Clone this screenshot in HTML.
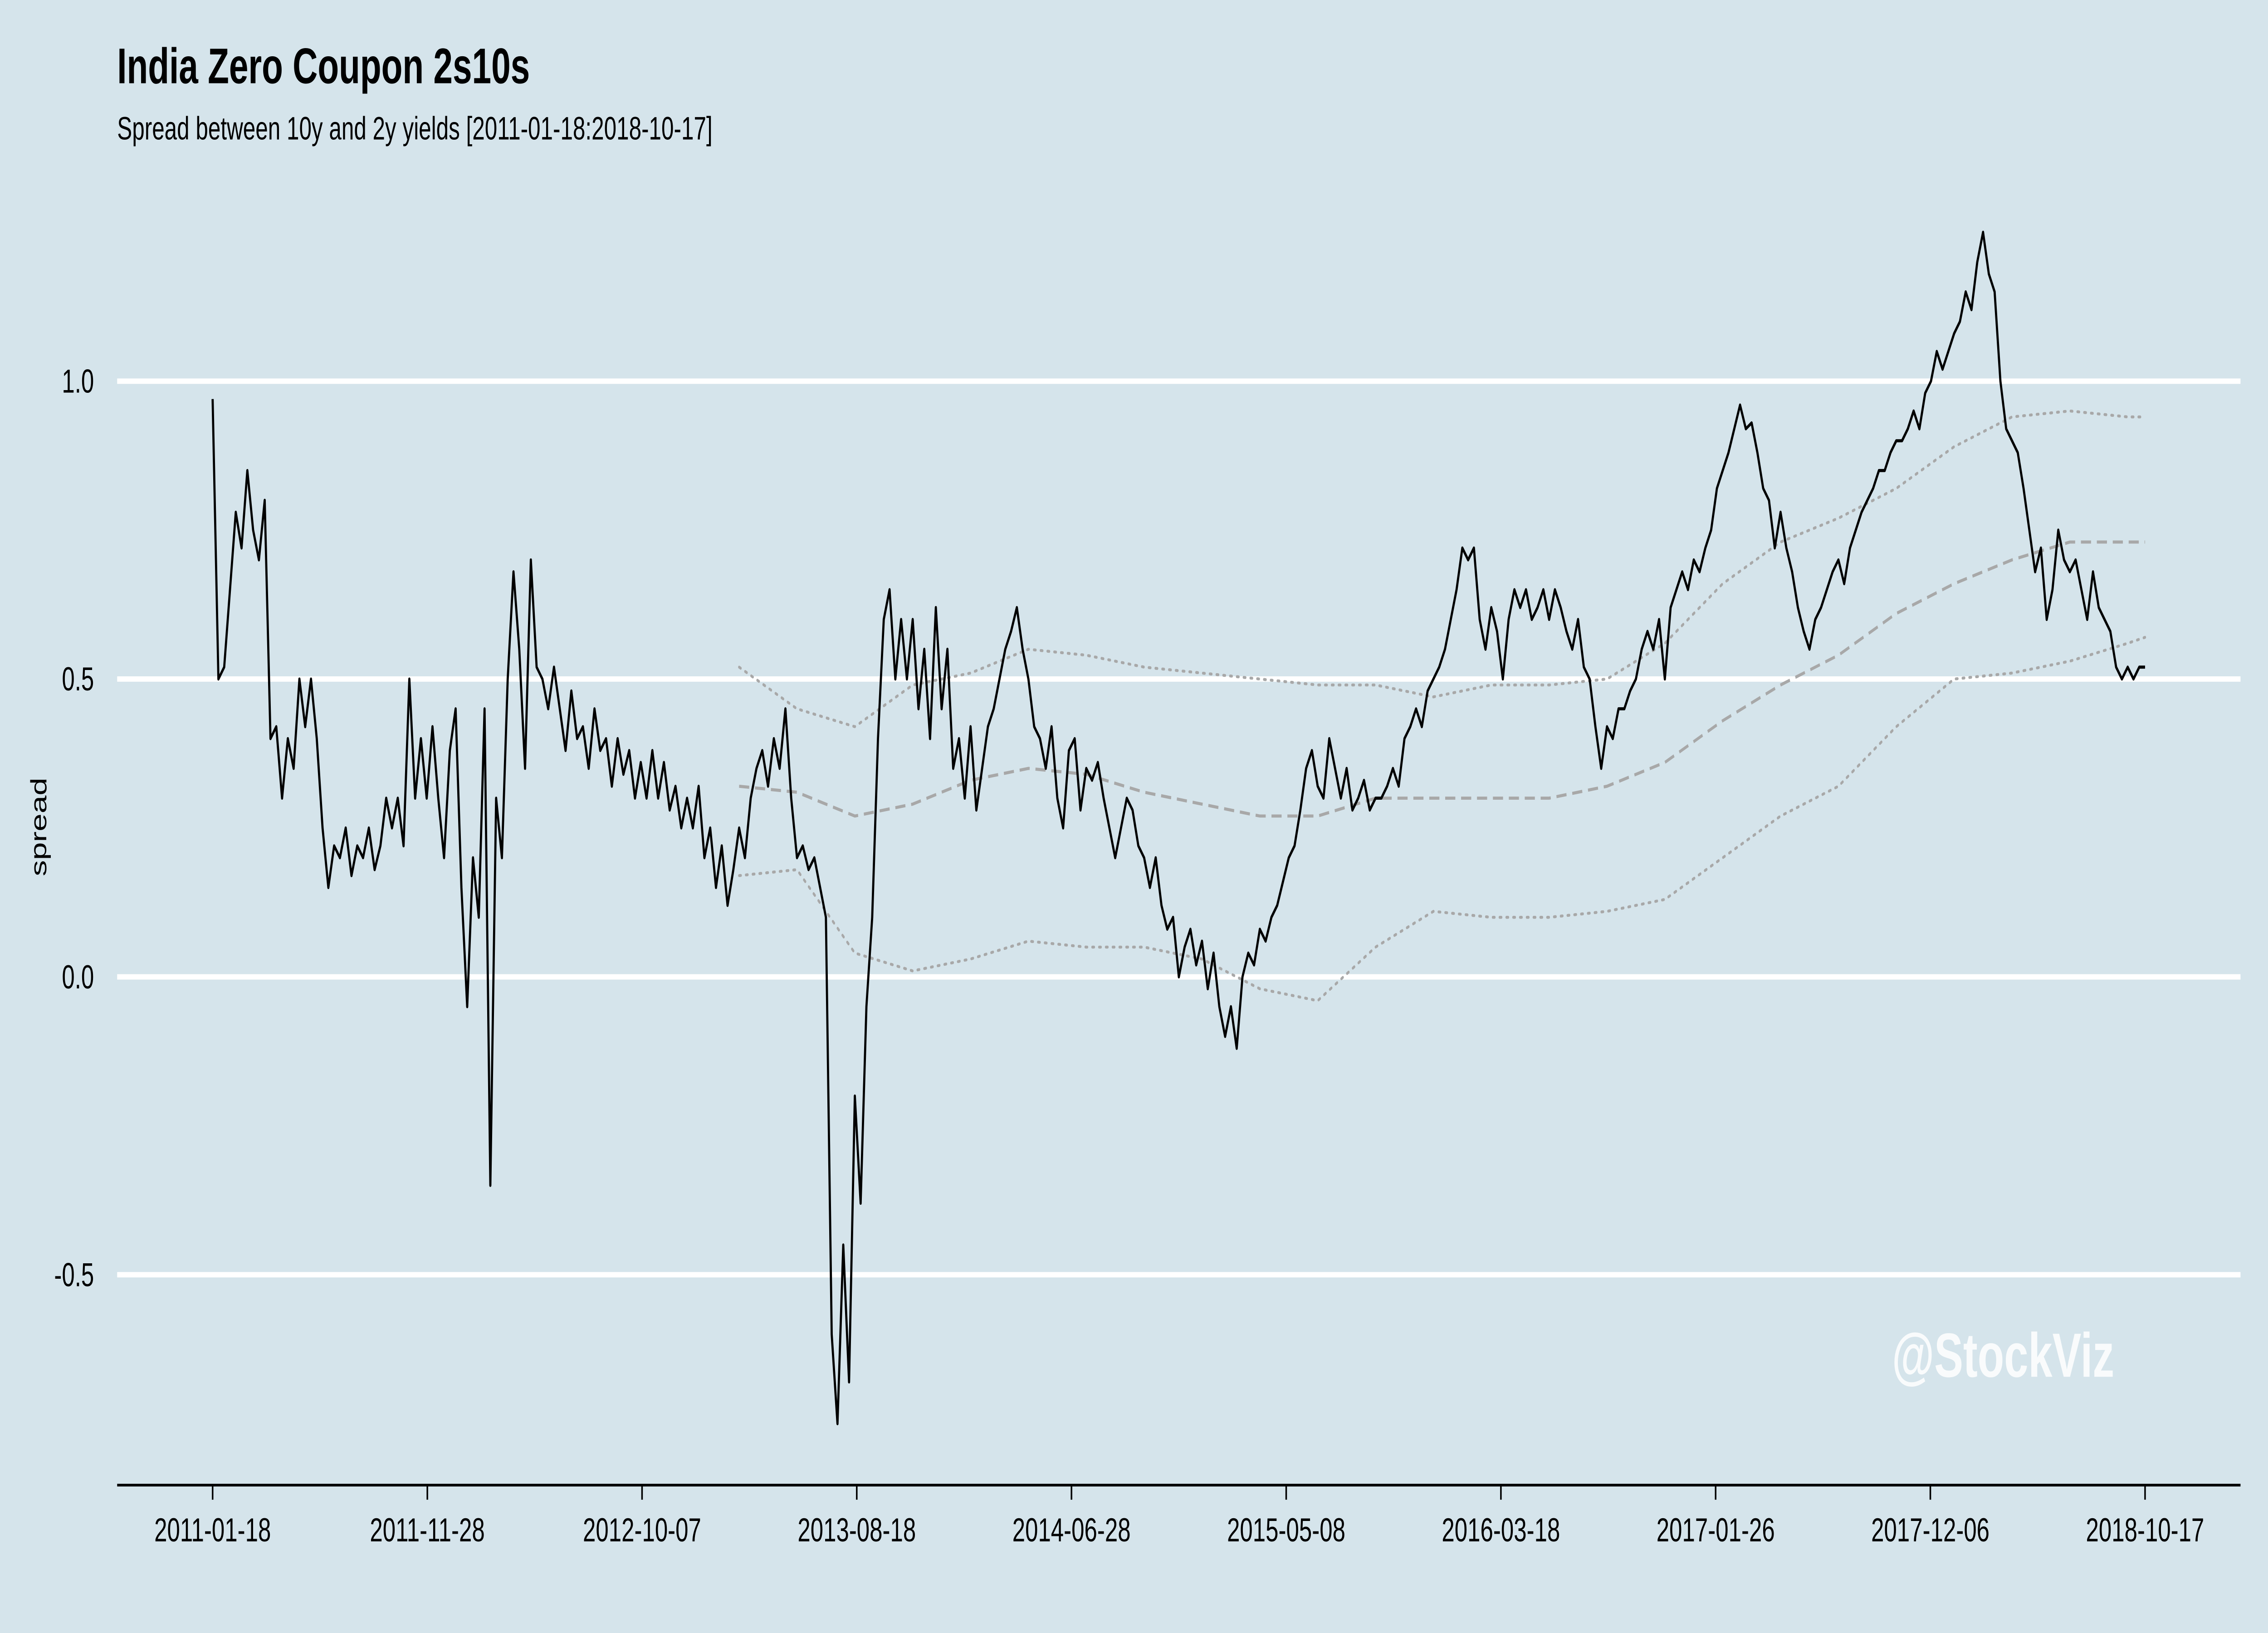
<!DOCTYPE html>
<html><head><meta charset="utf-8"><style>
html,body{margin:0;padding:0;background:#d5e4eb;width:100%;height:100%;overflow:hidden;}
svg{display:block;width:100vw;height:100vh;font-family:"Liberation Sans",sans-serif;}
</style></head><body>
<svg id="chart" viewBox="0 0 1568 784" preserveAspectRatio="none" xmlns="http://www.w3.org/2000/svg">
<rect x="0" y="0" width="1568" height="784" fill="#d5e4eb"/>
<text x="81" y="40" font-size="24" font-weight="bold" fill="#000">India Zero Coupon 2s10s</text>
<text x="81" y="67" font-size="15.5" fill="#000">Spread between 10y and 2y yields [2011-01-18:2018-10-17]</text>
<text transform="translate(32,397) rotate(-90)" text-anchor="middle" font-size="15.5" fill="#000">spread</text>
<g id="grid"></g>
<g id="ylabels"></g>
<g id="xaxis"></g>
<g id="bands"></g>
<g id="series"></g>
<text x="1308" y="661" font-size="30" font-weight="bold" fill="#ffffff" fill-opacity="0.85">@StockViz</text>
</svg>
<script>
const totalDays = 2829;
const xTickLabels = ["2011-01-18","2011-11-28","2012-10-07","2013-08-18","2014-06-28","2015-05-08","2016-03-18","2017-01-26","2017-12-06","2018-10-17"];
const yTicks = [-0.5, 0.0, 0.5, 1.0];
const yTickLabels = ["-0.5","0.0","0.5","1.0"];
const spread = [
0.97,0.5,0.52,0.65,0.78,0.72,0.85,0.75,0.7,0.8,0.4,0.42,0.3,0.4,0.35,0.5,0.42,0.5,0.4,0.25,0.15,0.22,0.2,0.25,0.17,0.22,0.2,0.25,0.18,0.22,0.3,0.25,0.3,0.22,0.5,0.3,0.4,0.3,0.42,0.3,0.2,0.38,0.45,0.15,-0.05,0.2,0.1,0.45,-0.35,0.3,0.2,0.5,0.68,0.55,0.35,0.7,0.52,
0.5,0.45,0.52,0.45,0.38,0.48,0.4,0.42,0.35,0.45,0.38,0.4,0.32,0.4,0.34,0.38,0.3,0.36,0.3,0.38,0.3,0.36,0.28,0.32,0.25,0.3,0.25,0.32,0.2,0.25,0.15,0.22,0.12,0.18,0.25,0.2,0.3,0.35,0.38,0.32,0.4,0.35,0.45,0.3,0.2,0.22,0.18,0.2,0.15,0.1,
-0.6,-0.75,-0.45,-0.68,-0.2,-0.38,-0.05,0.1,0.4,0.6,0.65,0.5,0.6,0.5,0.6,0.45,
0.55,0.4,0.62,0.45,0.55,0.35,0.4,0.3,0.42,0.28,
0.35,0.42,0.45,0.5,0.55,0.58,0.62,0.55,0.5,0.42,
0.4,0.35,0.42,0.3,0.25,0.38,0.4,0.28,0.35,0.33,
0.36,0.3,0.25,0.2,0.25,0.3,0.28,0.22,0.2,0.15,
0.2,0.12,0.08,0.1,0,0.05,0.08,0.02,0.06,-0.02,
0.04,-0.05,-0.1,-0.05,-0.12,0,0.04,0.02,0.08,0.06,
0.1,0.12,0.16,0.2,0.22,0.28,0.35,0.38,0.32,0.3,
0.4,0.35,0.3,0.35,0.28,0.3,0.33,0.28,0.3,0.3,
0.32,0.35,0.32,0.4,0.42,0.45,0.42,0.48,0.5,0.52,
0.55,0.6,0.65,0.72,0.7,0.72,0.6,0.55,0.62,0.58,
0.5,0.6,0.65,0.62,0.65,0.6,0.62,0.65,0.6,0.65,
0.62,0.58,0.55,0.6,0.52,0.5,0.42,0.35,0.42,0.4,
0.45,0.45,0.48,0.5,0.55,0.58,0.55,0.6,0.5,0.62,
0.65,0.68,0.65,0.7,0.68,0.72,0.75,0.82,0.85,0.88,
0.92,0.96,0.92,0.93,0.88,0.82,0.8,0.72,0.78,0.72,
0.68,0.62,0.58,0.55,0.6,0.62,0.65,0.68,0.7,0.66,
0.72,0.75,0.78,0.8,0.82,0.85,0.85,0.88,0.9,0.9,
0.92,0.95,0.92,0.98,1.0,1.05,1.02,1.05,1.08,1.1,
1.15,1.12,1.2,1.25,1.18,1.15,1.0,0.92,0.9,0.88,
0.82,0.75,0.68,0.72,0.6,0.65,0.75,0.7,0.68,0.7,
0.65,0.6,0.68,0.62,0.6,0.58,0.52,0.5,0.52,0.5,
0.52,0.52];
const bandIndex = [91,101,111,121,131,141,151,161,171,181,191,201,211,221,231,241,251,261,271,281,291,301,311,321,331,334];
const rollMean = [0.32,0.31,0.27,0.29,0.33,0.35,0.34,0.31,0.29,0.27,0.27,0.3,0.3,0.3,0.3,0.32,0.36,0.43,0.49,0.54,0.61,0.66,0.7,0.73,0.73,0.73];
const rollUpper = [0.52,0.45,0.42,0.49,0.51,0.55,0.54,0.52,0.51,0.5,0.49,0.49,0.47,0.49,0.49,0.5,0.56,0.66,0.73,0.77,0.82,0.89,0.94,0.95,0.94,0.94];
const rollLower = [0.17,0.18,0.04,0.01,0.03,0.06,0.05,0.05,0.03,-0.02,-0.04,0.05,0.11,0.1,0.1,0.11,0.13,0.2,0.27,0.32,0.42,0.5,0.51,0.53,0.56,0.57];

const NS = "http://www.w3.org/2000/svg";
const X0 = 147, X1 = 1483;
const xDay = d => X0 + (X1 - X0) * d / totalDays;
const xIdx = i => xDay(i * totalDays / (spread.length - 1));
const yVal = v => 469 - 286 * v;
function mk(tag, attrs, parent) {
  const e = document.createElementNS(NS, tag);
  for (const k in attrs) e.setAttribute(k, attrs[k]);
  parent.appendChild(e);
  return e;
}
const grid = document.getElementById('grid');
const yl = document.getElementById('ylabels');
yTicks.forEach((v, i) => {
  const l = mk('line', {x1: 81, x2: 1549, y1: yVal(v), y2: yVal(v), stroke: '#ffffff', 'stroke-width': 2.6}, grid);
  
  
  const t = mk('text', {x: 65, y: yVal(v) + 5.5, 'text-anchor': 'end', 'font-size': 16, fill: '#000'}, yl);
  t.textContent = yTickLabels[i];
  
  
});
const xa = document.getElementById('xaxis');
const axl = mk('line', {x1: 81, x2: 1549, y1: 713, y2: 713, stroke: '#000', 'stroke-width': 1.3}, xa);


xTickLabels.forEach((lab, i) => {
  const x = xDay(i * totalDays / (xTickLabels.length - 1));
  const tk = mk('line', {x1: x, x2: x, y1: 713, y2: 720, stroke: '#000', 'stroke-width': 1.1}, xa);
  
  
  const t = mk('text', {x: x, y: 740, 'text-anchor': 'middle', 'font-size': 16, fill: '#000'}, xa);
  t.textContent = lab;
  
  
});
const bands = document.getElementById('bands');
function bandPath(arr) { return arr.map((v, k) => (k ? 'L' : 'M') + xIdx(bandIndex[k]).toFixed(2) + ' ' + yVal(v).toFixed(2)).join(' '); }
const pm = mk('path', {d: bandPath(rollMean), fill: 'none', stroke: '#a8a8a8', 'stroke-width': 1.5, 'stroke-dasharray': '7 4'}, bands);


const pu = mk('path', {d: bandPath(rollUpper), fill: 'none', stroke: '#a8a8a8', 'stroke-width': 1.4, 'stroke-dasharray': '1.2 3.5', 'stroke-linecap': 'round'}, bands);


const pl = mk('path', {d: bandPath(rollLower), fill: 'none', stroke: '#a8a8a8', 'stroke-width': 1.4, 'stroke-dasharray': '1.2 3.5', 'stroke-linecap': 'round'}, bands);


const ser = document.getElementById('series');
const sp = mk('path', {d: spread.map((v, i) => (i ? 'L' : 'M') + xIdx(i).toFixed(2) + ' ' + yVal(v).toFixed(2)).join(' '), fill: 'none', stroke: '#000', 'stroke-width': 1.5, 'stroke-linejoin': 'round'}, ser);


</script>
</body></html>
